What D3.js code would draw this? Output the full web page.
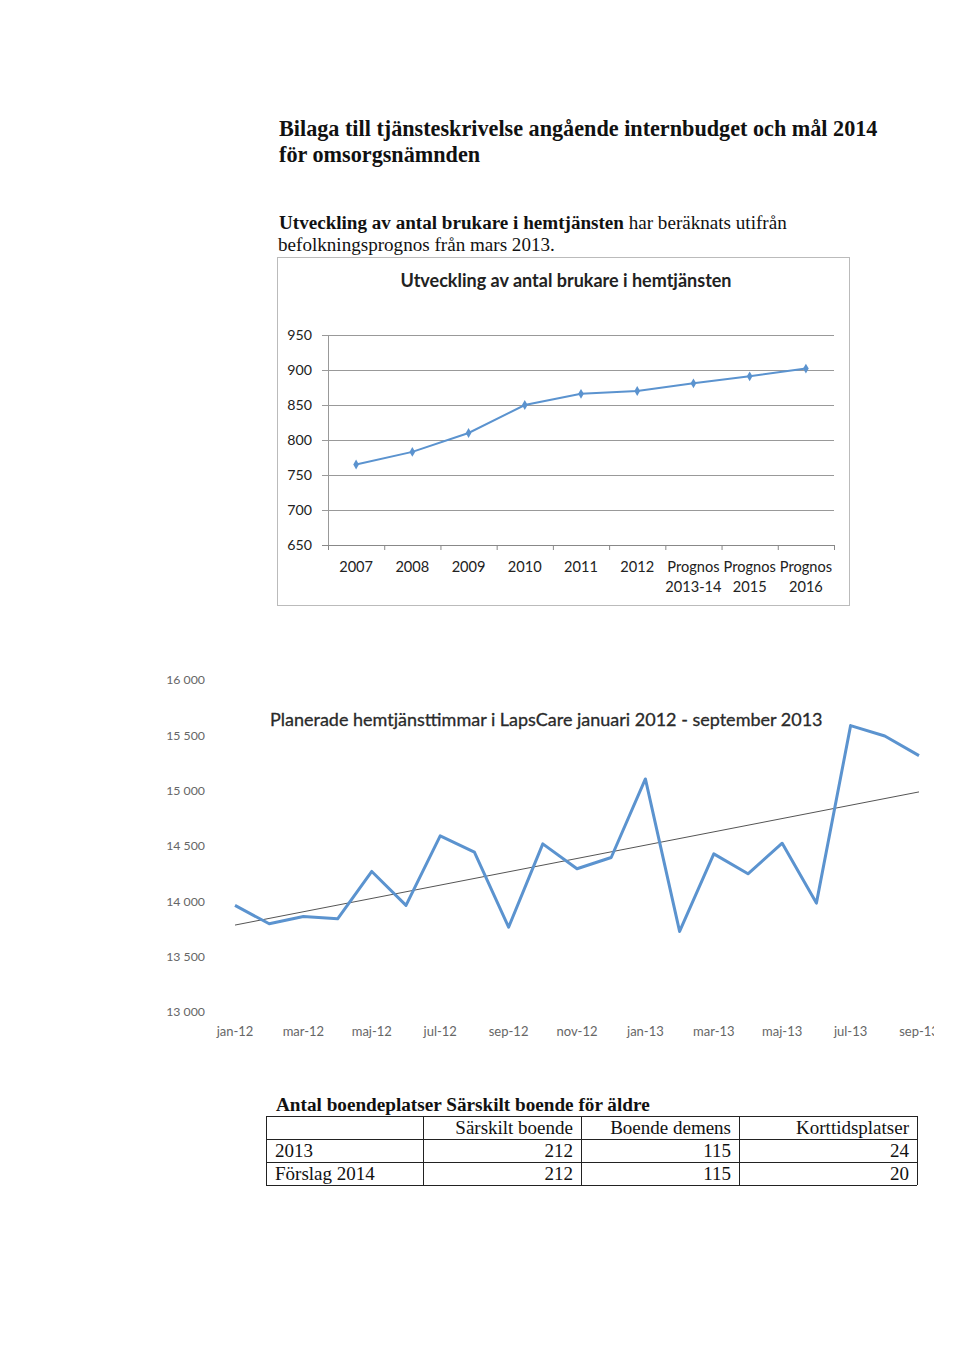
<!DOCTYPE html>
<html lang="sv">
<head>
<meta charset="UTF-8">
<title>Bilaga omsorgsnämnden</title>
<script src="https://d3js.org/d3.v7.min.js"></script>
<style>
    body { margin: 0; background: #fff; }
    svg { display: block; }
    .serif { font-family: "Liberation Serif", "Times New Roman", serif; fill: #111; }
    .sans { font-family: Lato, "Open Sans", sans-serif; }
</style>
</head>
<body>
<svg id="page" width="960" height="1355"></svg>
<script>
    // chart 1: brukare i hemtjänsten
    const years = ["2007", "2008", "2009", "2010", "2011", "2012", "Prognos|2013-14", "Prognos|2015", "Prognos|2016"];
    const brukare = [765, 783, 810, 850, 866, 870, 881, 891, 902];
    const brukareTicks = [650, 700, 750, 800, 850, 900, 950];

    // chart 2: planerade timmar
    const months = ["jan-12", "feb-12", "mar-12", "apr-12", "maj-12", "jun-12", "jul-12", "aug-12", "sep-12", "okt-12",
        "nov-12", "dec-12", "jan-13", "feb-13", "mar-13", "apr-13", "maj-13", "jun-13", "jul-13", "aug-13", "sep-13"];
    const timmar = [13963, 13797, 13863, 13842, 14270, 13963, 14592, 14444, 13767, 14519,
        14294, 14396, 15106, 13728, 14429, 14249, 14525, 13984, 15588, 15494, 15317];
    const timmarTicks = [13000, 13500, 14000, 14500, 15000, 15500, 16000];

    // table
    const tableHead = ["", "Särskilt boende", "Boende demens", "Korttidsplatser"];
    const tableRows = [
        ["2013", 212, 115, 24],
        ["Förslag 2014", 212, 115, 20]
    ];

    const svg = d3.select("#page");
    const blue = "#5b93cf";

    // ---- page text ----
    svg.append("text").attr("class", "serif").attr("x", 279).attr("y", 136)
        .attr("font-size", 22.2).attr("font-weight", "bold")
        .text("Bilaga till tjänsteskrivelse angående internbudget och mål 2014");
    svg.append("text").attr("class", "serif").attr("x", 279).attr("y", 162)
        .attr("font-size", 22.2).attr("font-weight", "bold")
        .text("för omsorgsnämnden");

    let p = svg.append("text").attr("class", "serif").attr("x", 279).attr("y", 229).attr("font-size", 19.1);
    p.append("tspan").attr("font-weight", "bold").text("Utveckling av antal brukare i hemtjänsten");
    p.append("tspan").text(" har beräknats utifrån");
    svg.append("text").attr("class", "serif").attr("x", 278).attr("y", 251).attr("font-size", 19.1)
        .text("befolkningsprognos från mars 2013.");

    // ---- chart 1 ----
    const c1 = svg.append("g");
    c1.append("rect").attr("x", 277.5).attr("y", 257.5).attr("width", 572).attr("height", 348)
        .attr("fill", "none").attr("stroke", "#bbb");
    c1.append("text").attr("class", "sans").attr("x", 566).attr("y", 287)
        .attr("text-anchor", "middle").attr("font-size", 18).attr("font-weight", "bold").attr("fill", "#222")
        .text("Utveckling av antal brukare i hemtjänsten");

    const x1 = d3.scalePoint().domain(years).range([328, 834]).padding(0.5);
    const y1 = d3.scaleLinear().domain([650, 950]).range([545, 335]);

    c1.append("g").selectAll("line").data(brukareTicks).enter().append("line")
        .attr("x1", 322).attr("x2", 834)
        .attr("y1", d => y1(d) + 0.5).attr("y2", d => y1(d) + 0.5)
        .attr("stroke", d => d === 650 ? "#888" : "#999").attr("stroke-width", 1);
    c1.append("line").attr("x1", 328.5).attr("x2", 328.5).attr("y1", 335).attr("y2", 545)
        .attr("stroke", "#999");
    c1.append("g").selectAll("text").data(brukareTicks).enter().append("text")
        .attr("class", "sans").attr("x", 312).attr("y", d => y1(d)).attr("dy", "0.35em")
        .attr("text-anchor", "end").attr("font-size", 14.2).attr("fill", "#222")
        .text(d => d);

    // category boundary ticks
    const step = x1.step();
    c1.append("g").selectAll("line").data(d3.range(years.length + 1)).enter().append("line")
        .attr("x1", i => 328.5 + i * step).attr("x2", i => 328.5 + i * step)
        .attr("y1", 545).attr("y2", 550).attr("stroke", "#888");

    c1.append("g").selectAll("text").data(years).enter().append("text")
        .attr("class", "sans").attr("x", d => x1(d)).attr("y", 572)
        .attr("text-anchor", "middle").attr("font-size", 14.6).attr("fill", "#222")
        .each(function (d) {
            d.split("|").forEach((t, i) => {
                d3.select(this).append("tspan").attr("x", x1(d)).attr("dy", i ? 20 : 0).text(t);
            });
        });

    c1.append("path").datum(brukare)
        .attr("fill", "none").attr("stroke", blue).attr("stroke-width", 2)
        .attr("d", d3.line().x((d, i) => x1(years[i])).y(d => y1(d)));
    c1.append("g").selectAll("path").data(brukare).enter().append("path")
        .attr("d", d3.symbol(d3.symbolDiamond, 28))
        .attr("transform", (d, i) => "translate(" + x1(years[i]) + "," + y1(d) + ")")
        .attr("fill", blue);

    // ---- chart 2 ----
    const c2 = svg.append("g");
    c2.append("clipPath").attr("id", "pageClip").append("rect")
        .attr("x", 0).attr("y", 0).attr("width", 934).attr("height", 1355);

    const x2 = d3.scalePoint().domain(months).range([235, 919]);
    const y2 = d3.scaleLinear().domain([13000, 16000]).range([1012, 680]);

    c2.append("g").selectAll("text").data(timmarTicks).enter().append("text")
        .attr("class", "sans").attr("x", 205).attr("y", d => y2(d)).attr("dy", "0.35em")
        .attr("text-anchor", "end").attr("font-size", 12.3).attr("fill", "#666")
        .text(d => d3.format(",")(d).replace(",", " "));

    c2.append("g").attr("clip-path", "url(#pageClip)")
        .selectAll("text").data(months.filter((d, i) => i % 2 === 0)).enter().append("text")
        .attr("class", "sans").attr("x", d => x2(d)).attr("y", 1036)
        .attr("text-anchor", "middle").attr("font-size", 13).attr("fill", "#666")
        .text(d => d);

    c2.append("text").attr("class", "sans").attr("x", 270).attr("y", 726)
        .attr("font-size", 18).attr("fill", "#2a2a2a")
        .attr("stroke", "#2a2a2a").attr("stroke-width", 0.3)
        .text("Planerade hemtjänsttimmar i LapsCare januari 2012 - september 2013");

    // linear trend (least squares over the series)
    const xi = d3.range(timmar.length);
    const mx = d3.mean(xi), my = d3.mean(timmar);
    const slope = d3.sum(xi, i => (i - mx) * (timmar[i] - my)) / d3.sum(xi, i => (i - mx) * (i - mx));
    const trend = [0, timmar.length - 1].map(i => [i, my + slope * (i - mx)]);
    c2.append("path").datum(trend)
        .attr("fill", "none").attr("stroke", "#555").attr("stroke-width", 1)
        .attr("d", d3.line().x(d => x2(months[d[0]])).y(d => y2(d[1])));

    c2.append("path").datum(timmar)
        .attr("fill", "none").attr("stroke", blue).attr("stroke-width", 3)
        .attr("stroke-linejoin", "round")
        .attr("d", d3.line().x((d, i) => x2(months[i])).y(d => y2(d)));

    // ---- table ----
    const tb = svg.append("g");
    tb.append("text").attr("class", "serif").attr("x", 276).attr("y", 1111)
        .attr("font-size", 19.2).attr("font-weight", "bold")
        .text("Antal boendeplatser Särskilt boende för äldre");

    const colX = [266, 423, 581, 739, 917];
    const rowY = [1116, 1139, 1162, 1185];
    tb.append("g").selectAll("line").data(rowY).enter().append("line")
        .attr("x1", colX[0]).attr("x2", colX[4]).attr("y1", d => d + 0.5).attr("y2", d => d + 0.5)
        .attr("stroke", "#222");
    tb.append("g").selectAll("line").data(colX).enter().append("line")
        .attr("x1", d => d + 0.5).attr("x2", d => d + 0.5).attr("y1", rowY[0]).attr("y2", rowY[3])
        .attr("stroke", "#222");

    const rows = [tableHead].concat(tableRows);
    rows.forEach((r, ri) => {
        r.forEach((v, ci) => {
            tb.append("text").attr("class", "serif")
                .attr("x", ci === 0 ? colX[0] + 9 : colX[ci + 1] - 8)
                .attr("y", rowY[ri + 1] - 5)
                .attr("text-anchor", ci === 0 ? "start" : "end")
                .attr("font-size", 19)
                .text(v);
        });
    });
</script>
</body>
</html>
